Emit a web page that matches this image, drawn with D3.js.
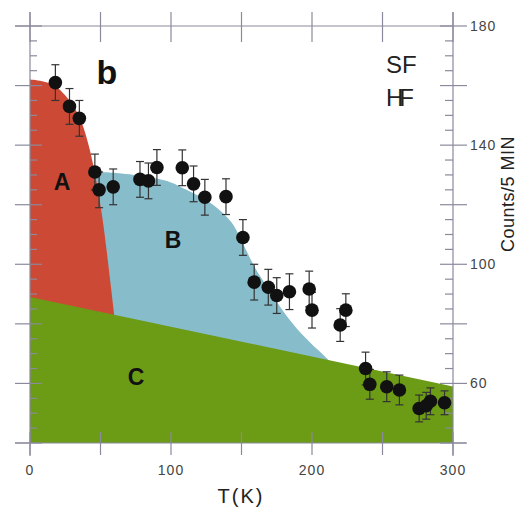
<!DOCTYPE html>
<html><head><meta charset="utf-8">
<script src="https://cdn.jsdelivr.net/npm/d3@7"></script>
<style>body{margin:0;background:#fff}svg{display:block}text{font-family:"Liberation Sans",Arial,Helvetica,sans-serif}</style>
</head><body>
<svg id="c" width="517" height="510"></svg>
<script>
// Data
const temps  = [18, 28, 35, 46, 49, 59, 78, 84, 90, 108, 116, 124, 139, 151, 159, 169, 175, 184, 198, 200, 220, 224, 238, 241, 253, 262, 276, 281, 284, 294];
const counts = [161, 153, 149, 131, 125, 126, 128.5, 128, 132.5, 132.4, 127, 122.5, 122.7, 109, 94, 92.3, 89.5, 90.8, 91.7, 84.6, 79.6, 84.6, 65, 59.7, 58.9, 57.8, 51.6, 52.5, 54, 53.5];
const errs   = [6, 6, 6, 6, 6, 6, 6, 6, 6, 6, 6, 6, 6, 6, 6, 6, 6, 6, 6, 6, 5.5, 5.5, 5.5, 5, 5, 5, 4.5, 4.5, 4.5, 4];
// Region boundaries [T, counts]
const regionA = [[0,162],[10,161.3],[18,159.8],[28,155],[35,149.5],[41,141],[45,133],[48.5,124],[51.5,115],[54.5,104],[57.5,92],[60,82]];
const regionB = [[0,132],[50,131],[65,130.5],[88,129],[100,127.5],[111,125],[125,121.5],[135,118],[143,114],[149,109],[154,104],[160,98.5],[168,92.5],[177,86],[189,78.5],[199,73.6],[206,70.5],[216,66]];
const regionC = [[0,89],[300,59]];
const xTicks = [0, 100, 200, 300];
const yTicks = [60, 100, 140, 180];

const svg = d3.select("#c");
const x = d3.scaleLinear().domain([0,300]).range([30,453]);
const y = d3.scaleLinear().domain([40,180]).range([443,26]);

const area = d3.area().x(d=>x(d[0])).y0(y(40)).y1(d=>y(d[1]));
svg.append("path").datum(regionB).attr("fill","#87bccb").attr("d", area.curve(d3.curveCatmullRom.alpha(0.5)));
svg.append("path").datum(regionA).attr("fill","#cc4a35").attr("d", area.curve(d3.curveCatmullRom.alpha(0.5)));
svg.append("path").datum(regionC).attr("fill","#6c9b16").attr("d", area.curve(d3.curveLinear));

// axes
const ax = "#8a8a9c";
const g = svg.append("g").attr("stroke", ax).attr("stroke-width", 1.2);
g.append("line").attr("x1",15).attr("x2",453).attr("y1",y(180)).attr("y2",y(180));
g.append("line").attr("x1",15).attr("x2",466).attr("y1",y(40)).attr("y2",y(40));
g.append("line").attr("x1",x(0)).attr("x2",x(0)).attr("y1",12).attr("y2",456);
g.append("line").attr("x1",x(300)).attr("x2",x(300)).attr("y1",12).attr("y2",456);
d3.range(0,301,50).forEach(t=>{
  g.append("line").attr("x1",x(t)).attr("x2",x(t)).attr("y1",y(180)-14).attr("y2",y(180)+16);
  g.append("line").attr("x1",x(t)).attr("x2",x(t)).attr("y1",y(40)-11).attr("y2",y(40)+12);
});
d3.range(40,181,5).forEach(v=>{
  const major = v%20===0;
  if(major){
    g.append("line").attr("x1",15).attr("x2",42).attr("y1",y(v)).attr("y2",y(v));
    g.append("line").attr("x1",440).attr("x2",467).attr("y1",y(v)).attr("y2",y(v));
  } else {
    g.append("line").attr("x1",x(0)).attr("x2",x(0)+7).attr("y1",y(v)).attr("y2",y(v));
    g.append("line").attr("x1",x(300)-8).attr("x2",x(300)).attr("y1",y(v)).attr("y2",y(v));
  }
});

// tick labels
svg.selectAll(".xl").data(xTicks).enter().append("text")
  .attr("x",d=>x(d)).attr("y",475).attr("text-anchor","middle")
  .attr("font-size",14).attr("fill","#444").attr("letter-spacing",1).text(d=>d);
svg.selectAll(".yl").data(yTicks).enter().append("text")
  .attr("x",470).attr("y",d=>y(d)+5).attr("font-size",14).attr("fill","#444").attr("letter-spacing",1).text(d=>d);

// data points
const pts = temps.map((t,i)=>({t, c:counts[i], e:errs[i]}));
const eg = svg.append("g").attr("stroke","#333").attr("stroke-width",1.2);
pts.forEach(p=>{
  eg.append("line").attr("x1",x(p.t)).attr("x2",x(p.t)).attr("y1",y(p.c+p.e)).attr("y2",y(p.c-p.e));
  eg.append("line").attr("x1",x(p.t)-4).attr("x2",x(p.t)+4).attr("y1",y(p.c+p.e)).attr("y2",y(p.c+p.e));
  eg.append("line").attr("x1",x(p.t)-4).attr("x2",x(p.t)+4).attr("y1",y(p.c-p.e)).attr("y2",y(p.c-p.e));
});
svg.selectAll(".pt").data(pts).enter().append("circle")
  .attr("cx",d=>x(d.t)).attr("cy",d=>y(d.c)).attr("r",6.8).attr("fill","#111");

// labels
const lab = (t,xx,yy,fs,fw,fill)=>svg.append("text").attr("x",xx).attr("y",yy).attr("font-size",fs)
  .attr("font-weight",fw).attr("fill",fill||"#111").attr("text-anchor","middle").text(t);
lab("b",107,84,34,"bold");
lab("A",62,190,23,"bold");
lab("B",173,248,23,"bold");
lab("C",136,385,23,"bold");
svg.append("text").attr("x",386).attr("y",73).attr("font-size",24).attr("fill","#222").text("SF");
svg.append("text").attr("x",386).attr("y",106).attr("font-size",24).attr("fill","#222").attr("letter-spacing",-4).text("HF");
svg.append("text").attr("x",241).attr("y",503).attr("text-anchor","middle").attr("font-size",20).attr("fill","#222").attr("letter-spacing",2).text("T(K)");
svg.append("text").attr("transform","translate(514,194) rotate(-90)").attr("text-anchor","middle").attr("font-size",18).attr("fill","#222").attr("letter-spacing",0.5).text("Counts/5  MIN");
</script>
</body></html>
